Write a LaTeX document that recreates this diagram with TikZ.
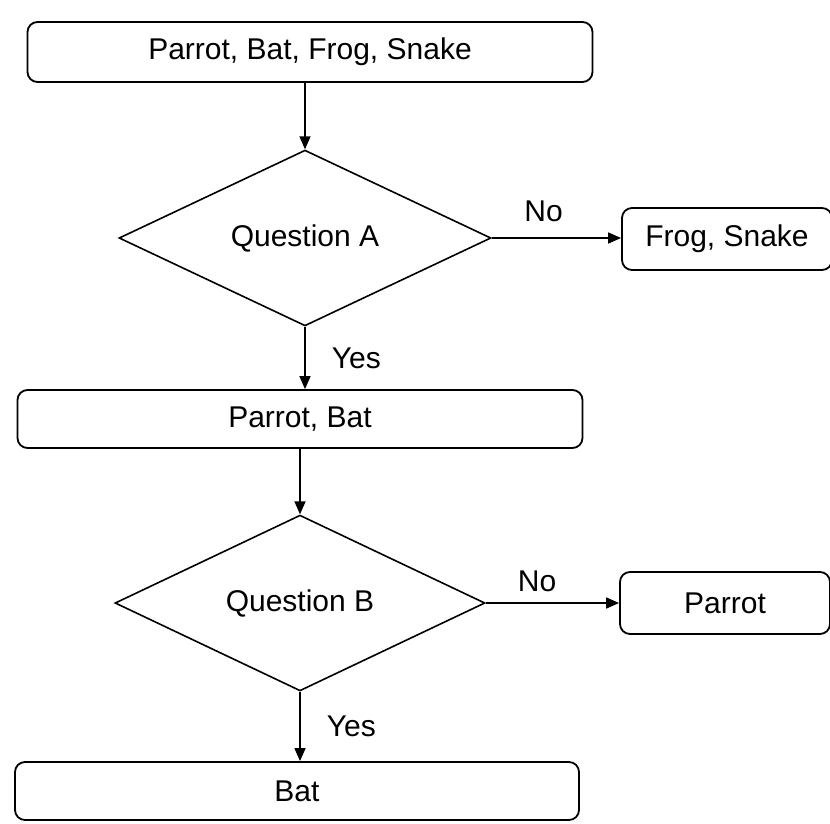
\documentclass[tikz,border=0pt]{standalone}
\usepackage{fontspec}
\setmainfont{Liberation Sans}
\usetikzlibrary{shapes.geometric,arrows.meta,calc}
\begin{document}
\begin{tikzpicture}[x=1pt,y=-1pt,
  every node/.style={font=\fontsize{30}{36}\selectfont},
  boxnode/.style={draw,line width=1.8pt,rounded corners=10pt,inner sep=0pt},
  decision/.style={draw,diamond,line width=1.6pt,inner sep=0pt},
  flow/.style={line width=1.6pt,-{Triangle[length=13pt,width=11pt]}},
  lbl/.style={inner sep=0pt}]
\useasboundingbox (0,0) rectangle (830,823);
\node[boxnode,minimum width=565pt,minimum height=60pt] (tb) at (310,52) {Parrot, Bat, Frog, Snake};
\node[decision,minimum width=372pt,minimum height=170pt] (dA) at (305,238) {Question A};
\node[boxnode,minimum width=210pt,minimum height=62pt] (fs) at (727,239) {Frog, Snake};
\node[boxnode,minimum width=565pt,minimum height=58pt] (pb) at (300,419) {Parrot, Bat};
\node[decision,minimum width=370pt,minimum height=170pt] (dB) at (300,603) {Question B};
\node[boxnode,minimum width=210pt,minimum height=62pt] (pa) at (725,603) {Parrot};
\node[boxnode,minimum width=564pt,minimum height=58pt] (bat) at (297,791) {Bat};

\draw[flow] (tb.south -| dA.north) -- (dA.north);
\draw[flow] (dA.east) -- node[lbl,pos=0.4,above=15pt] {No} (dA.east -| fs.west);
\draw[flow] (dA.south) -- node[lbl,midway,right=26pt] {Yes} (dA.south |- pb.north);
\draw[flow] (pb.south -| dB.north) -- (dB.north);
\draw[flow] (dB.east) -- node[lbl,pos=0.385,above=10pt] {No} (pa.west);
\draw[flow] (dB.south) -- node[lbl,midway,right=26pt] {Yes} (dB.south |- bat.north);
\end{tikzpicture}
\end{document}
